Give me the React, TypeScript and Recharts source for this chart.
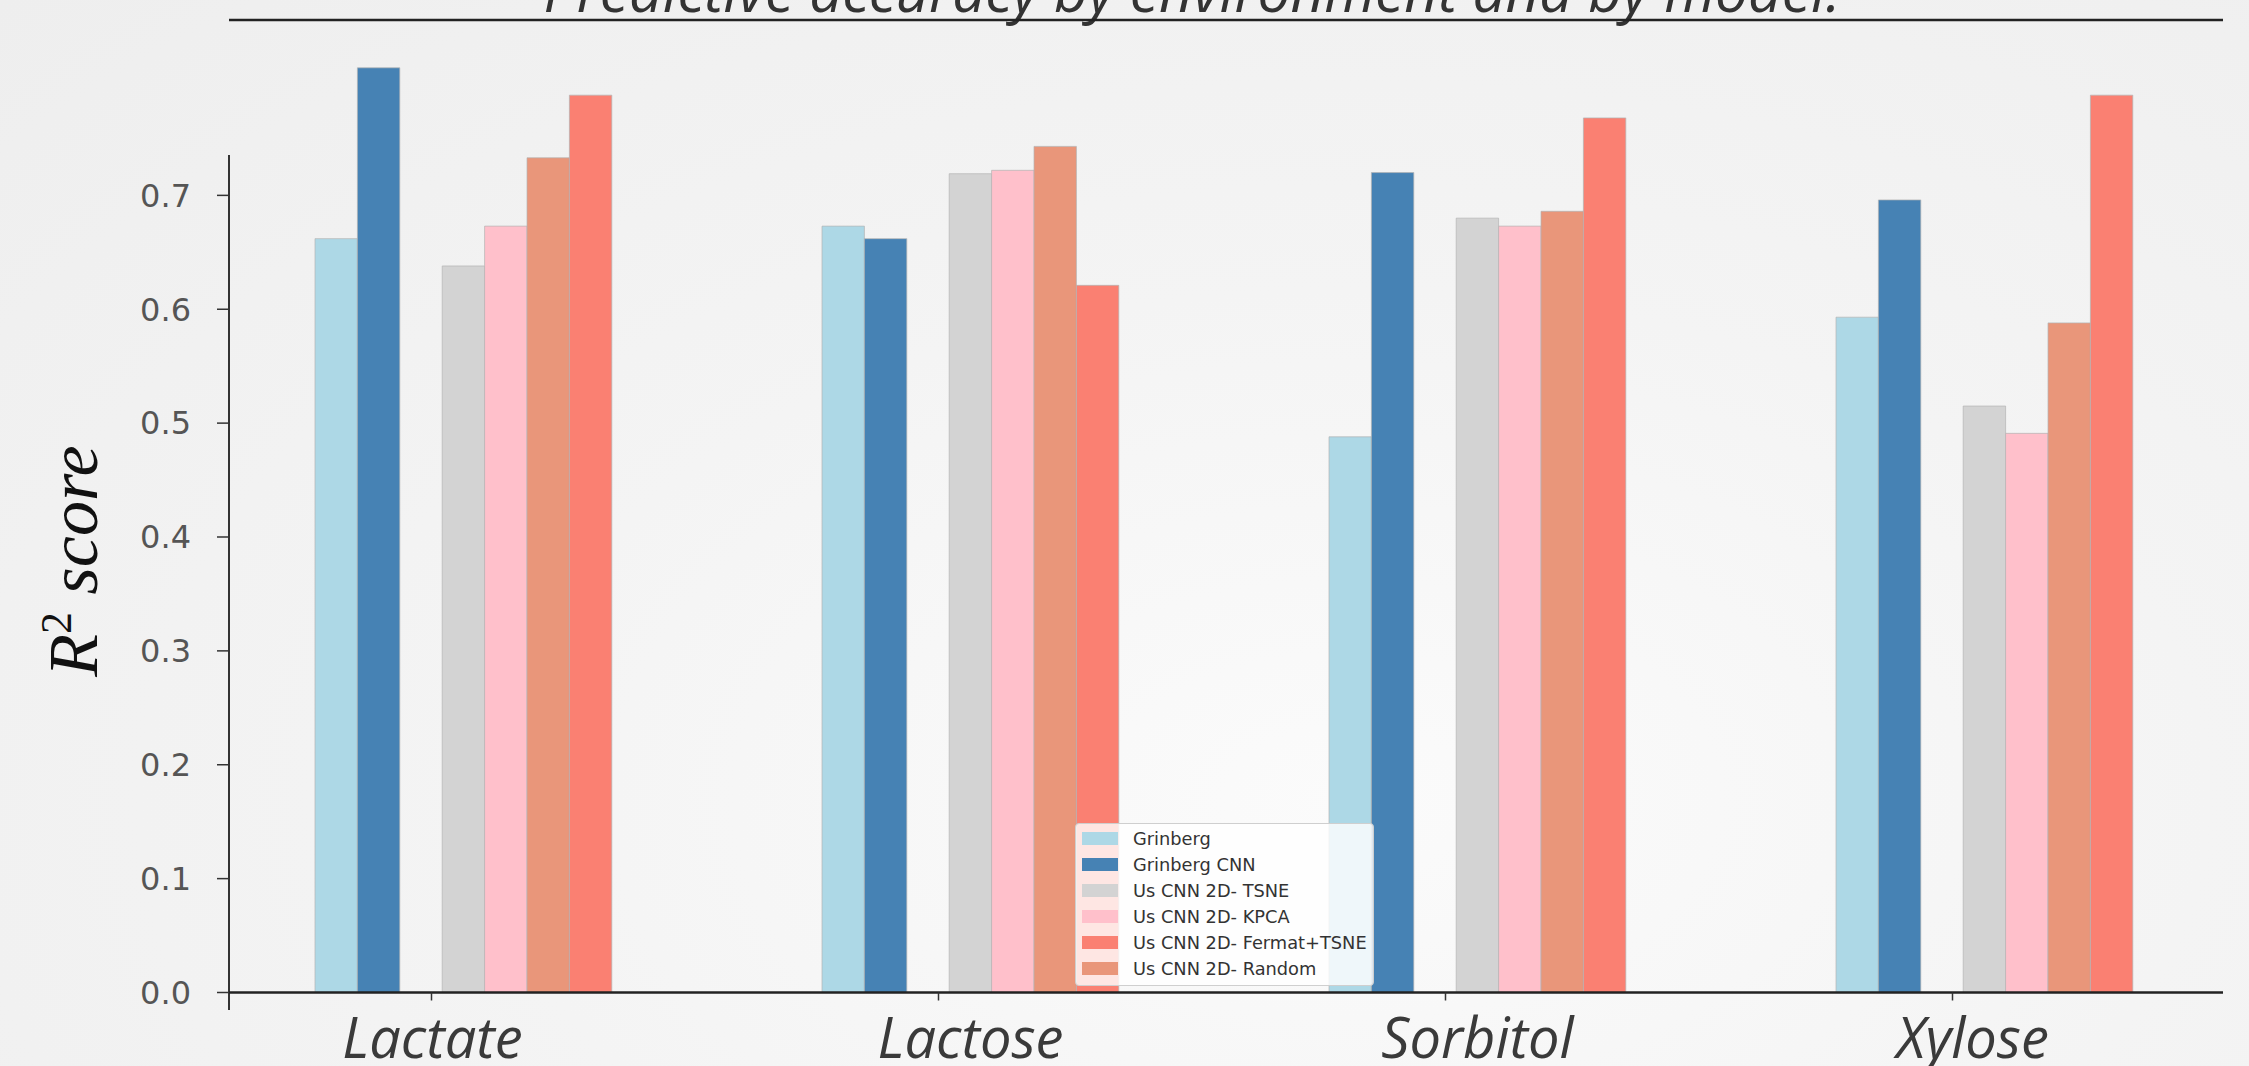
import { BarChart, Bar, XAxis, YAxis, ReferenceLine, Legend } from 'recharts';

// R^2 per sugar (environment) for each model
const categories = ['Lactate', 'Lactose', 'Sorbitol', 'Xylose'];
const grinberg = [0.662, 0.673, 0.488, 0.593];
const grinbergCnn = [0.812, 0.662, 0.72, 0.696];
const tsne = [0.638, 0.719, 0.68, 0.515];
const kpca = [0.673, 0.722, 0.673, 0.491];
const randomProj = [0.733, 0.743, 0.686, 0.588];
const fermatTsne = [0.788, 0.621, 0.768, 0.788];

const yTicks = [0, 0.1, 0.2, 0.3, 0.4, 0.5, 0.6, 0.7];

const data = categories.map((name, i) => ({
  name,
  grinberg: grinberg[i],
  grinbergCnn: grinbergCnn[i],
  tsne: tsne[i],
  kpca: kpca[i],
  random: randomProj[i],
  fermat: fermatTsne[i],
}));

const legendItems = [
  { label: 'Grinberg', color: '#add8e6' },
  { label: 'Grinberg CNN', color: '#4682b4' },
  { label: 'Us CNN 2D- TSNE', color: '#d3d3d3' },
  { label: 'Us CNN 2D- KPCA', color: '#ffc0cb' },
  { label: 'Us CNN 2D- Fermat+TSNE', color: '#fa8072' },
  { label: 'Us CNN 2D- Random', color: '#e9967a' },
];

const W = 2249;
const H = 1066;
const LEFT = 229;
const RIGHT = 2223;
const TOP = 20;
const BOTTOM = 992.5;
const BAR = 42.4;
const edge = { stroke: '#b4b4b4', strokeOpacity: 0.7, strokeWidth: 1 };

// the big category labels sit a little left of some group centres
const labelShift: Record<string, number> = { Lactate: -31, Xylose: -12 };

const CategoryTick = ({ x, y, payload }: any) => (
  <g>
    <line x1={x - 32} x2={x - 32} y1={y} y2={y + 8} stroke="#333" strokeWidth={1.5} />
    <text
      x={x + (labelShift[payload.value] ?? 0)}
      y={y + 65}
      textAnchor="middle"
      fontFamily="'Open Sans', sans-serif"
      fontStyle="italic"
      fontSize={56}
      fill="#3a3a3a"
    >
      {payload.value}
    </text>
  </g>
);

const LegendBox = () => (
  <div
    style={{
      background: 'rgba(255,255,255,0.8)',
      border: '1px solid #cfcfcf',
      borderRadius: 4,
      padding: '1px 0 3px 0',
      width: 299,
      boxSizing: 'border-box',
      fontFamily: "'DejaVu Sans', sans-serif",
      fontSize: 17.8,
      color: '#333',
      textAlign: 'left',
    }}
  >
    {legendItems.map((item) => (
      <div key={item.label} style={{ display: 'flex', alignItems: 'center', height: 26.1 }}>
        <span
          style={{
            display: 'inline-block',
            width: 36,
            height: 13,
            marginLeft: 6,
            marginRight: 15,
            background: item.color,
          }}
        />
        <span>{item.label}</span>
      </div>
    ))}
  </div>
);

export default function App() {
  return (
    <div
      style={{
        position: 'absolute',
        left: 0,
        top: 0,
        width: W,
        height: H,
        overflow: 'hidden',
        background:
          'radial-gradient(ellipse at 60% 75%, #fbfbfb 0%, #f4f4f4 45%, #eeeeee 100%)',
      }}
    >
      <BarChart
        width={W}
        height={H}
        data={data}
        margin={{ top: TOP, right: W - RIGHT, bottom: 0, left: 0 }}
        barGap={0}
        barCategoryGap={0}
      >
        <text
          x={1192}
          y={12}
          textAnchor="middle"
          fontFamily="'Open Sans', sans-serif"
          fontStyle="italic"
          fontSize={58.5}
          fill="#333"
        >
          Predictive accuracy by environment and by model.
        </text>
        <text
          transform="translate(97,561) rotate(-90)"
          textAnchor="middle"
          fontFamily="'Liberation Serif', serif"
          fontStyle="italic"
          fontSize={70}
          fill="#111"
        >
          R<tspan dy={-26} fontSize={44} fontStyle="normal">2</tspan>
          <tspan dy={26}> score</tspan>
        </text>
        <XAxis
          dataKey="name"
          height={H - BOTTOM}
          padding={{ left: -19, right: -15 }}
          axisLine={{ stroke: '#222', strokeWidth: 2.5 }}
          tickLine={false}
          tickSize={0}
          tickMargin={0}
          tick={<CategoryTick />}
        />
        <YAxis
          width={LEFT}
          domain={[0, 0.854]}
          ticks={yTicks}
          allowDataOverflow
          axisLine={false}
          tickLine={{ stroke: '#333', strokeWidth: 1.5 }}
          tickSize={12}
          tickMargin={26}
          tickFormatter={(v: number) => v.toFixed(1)}
          tick={{ fill: '#555', fontSize: 32, fontFamily: "'DejaVu Sans', sans-serif" }}
        />
        <YAxis
          yAxisId="frame"
          orientation="right"
          width={0}
          tick={false}
          tickLine={false}
          axisLine={{ stroke: '#222', strokeWidth: 2.5 }}
        />
        <ReferenceLine y={0.854} stroke="#222" strokeWidth={2.5} ifOverflow="extendDomain" />
        <line x1={LEFT} x2={LEFT} y1={155} y2={1010} stroke="#333" strokeWidth={2} />
        <Legend
          layout="horizontal"
          align="center"
          verticalAlign="middle"
          content={<LegendBox />}
          wrapperStyle={{ position: 'absolute', left: 1075, top: 823, width: 299, height: 161 }}
        />
        <Bar dataKey="grinberg" fill="#add8e6" barSize={BAR} {...edge} isAnimationActive={false} />
        <Bar dataKey="grinbergCnn" fill="#4682b4" barSize={BAR} {...edge} isAnimationActive={false} />
        <Bar dataKey="spacer" fill="none" barSize={BAR} legendType="none" isAnimationActive={false} />
        <Bar dataKey="tsne" fill="#d3d3d3" barSize={BAR} {...edge} isAnimationActive={false} />
        <Bar dataKey="kpca" fill="#ffc0cb" barSize={BAR} {...edge} isAnimationActive={false} />
        <Bar dataKey="random" fill="#e9967a" barSize={BAR} {...edge} isAnimationActive={false} />
        <Bar dataKey="fermat" fill="#fa8072" barSize={BAR} {...edge} isAnimationActive={false} />
      </BarChart>
    </div>
  );
}
